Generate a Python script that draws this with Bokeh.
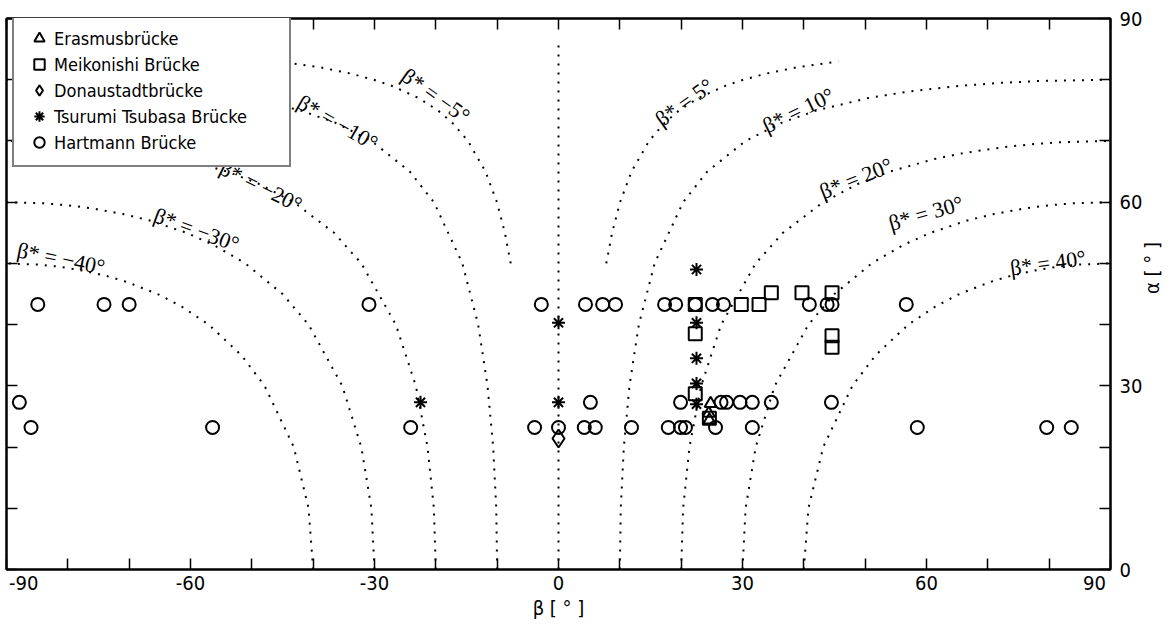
import math
from bokeh.plotting import figure
from bokeh.models import LinearAxis, FixedTicker, Range1d, Legend, LegendItem
from bokeh.embed import file_html
from bokeh.resources import INLINE
from bokeh.core.properties import value

# ---------------- data ----------------
# Hartmann Brücke (circles)
hart_beta = [-84.9, -74.1, -70.0, -30.9, -2.8, 4.4, 7.2, 9.3, 17.3, 19.1, 22.3, 25.1, 26.9, 40.9, 43.8, 44.6, 56.7,
             -87.9, 5.2, 19.9, 26.5, 27.4, 29.6, 31.6, 34.7, 44.5,
             -86.0, -56.4, -24.1, -3.9, 0.0, 4.2, 6.0, 11.9, 17.9, 19.9, 20.7, 25.6, 31.6, 58.5, 79.6, 83.6]
hart_alpha = [43.3] * 17 + [27.3] * 9 + [23.2] * 16

# Meikonishi Brücke (squares)
meik_beta = [22.3, 29.8, 32.7, 34.7, 39.7, 44.6, 22.3, 44.6, 44.6, 22.3, 24.6]
meik_alpha = [43.3, 43.3, 43.3, 45.2, 45.2, 45.2, 38.5, 38.2, 36.3, 28.7, 24.7]

# Erasmusbrücke (triangles)
eras_beta = [24.8, 24.5, 24.6]
eras_alpha = [27.1, 25.5, 24.4]

# Donaustadtbrücke (diamond)
dona_beta = [0.0]
dona_alpha = [21.4]

# Tsurumi Tsubasa Brücke (asterisks)
tsur_beta = [0.0, -22.5, 0.0, 22.5, 22.5, 22.5, 22.5, 22.5]
tsur_alpha = [40.3, 27.3, 27.3, 49.0, 40.3, 34.5, 30.4, 27.0]

# dotted beta* curves (beta, alpha points)
c0_beta = [0.0, 0.0]
c0_alpha = [0, 86.5]
c5_beta = [7.79, 8.74, 10.04, 11.9, 14.77, 17.34, 19.68, 22.79, 27.18, 30.14, 33.87, 38.77, 45.64]
c5_alpha = [50, 55, 60, 65, 70, 73, 75, 77, 79, 80, 81, 82, 83]
cm5_beta = [-7.79, -8.74, -10.04, -11.9, -14.77, -17.34, -19.68, -22.79, -27.18, -30.14, -33.87, -38.77, -45.64]
cm5_alpha = [50, 55, 60, 65, 70, 73, 75, 77, 79, 80, 81, 82, 83]
c10_beta = [10, 10.15, 10.65, 11.57, 13.1, 15.67, 20.32, 24.25, 30.51, 36.43, 42.14, 50.5, 56.62, 65.5, 72.3, 78.6, 90]
c10_alpha = [0, 10, 20, 30, 40, 50, 60, 65, 70, 73, 75, 77, 78, 79, 79.5, 79.8, 80]
cm10_beta = [-10, -10.15, -10.65, -11.57, -13.1, -15.67, -20.32, -24.25, -30.51, -36.43, -42.14, -50.5, -56.62, -65.5, -72.3, -78.6, -90]
cm10_alpha = [0, 10, 20, 30, 40, 50, 60, 65, 70, 73, 75, 77, 78, 79, 79.5, 79.8, 80]
c20_beta = [20, 20.32, 21.35, 23.26, 26.52, 32.15, 36.6, 43.16, 48.88, 54.03, 61.08, 65.92, 72.6, 77.6, 82.1, 90]
c20_alpha = [0, 10, 20, 30, 40, 50, 55, 60, 63, 65, 67, 68, 69, 69.5, 69.8, 70]
cm20_beta = [-20, -20.32, -21.35, -23.26, -26.52, -32.15, -36.6, -43.16, -48.88, -54.03, -61.08, -65.92, -72.6, -77.6, -82.1, -90]
cm20_alpha = [0, 10, 20, 30, 40, 50, 55, 60, 63, 65, 67, 68, 69, 69.5, 69.8, 70]
c30_beta = [30, 30.51, 32.15, 35.26, 40.75, 45, 51.07, 56.19, 60.66, 66.65, 70.68, 76.14, 80.1, 83.7, 90]
c30_alpha = [0, 10, 20, 30, 40, 45, 50, 53, 55, 57, 58, 59, 59.5, 59.8, 60]
cm30_beta = [-30, -30.51, -32.15, -35.26, -40.75, -45, -51.07, -56.19, -60.66, -66.65, -70.68, -76.14, -80.1, -83.7, -90]
cm30_alpha = [0, 10, 20, 30, 40, 45, 50, 53, 55, 57, 58, 59, 59.5, 59.8, 60]
c40_beta = [40, 40.75, 43.16, 47.92, 51.7, 57.03, 61.51, 65.38, 70.47, 73.87, 78.43, 81.8, 84.7, 90]
c40_alpha = [0, 10, 20, 30, 35, 40, 43, 45, 47, 48, 49, 49.5, 49.8, 50]
cm40_beta = [-40, -40.75, -43.16, -47.92, -51.7, -57.03, -61.51, -65.38, -70.47, -73.87, -78.43, -81.8, -84.7, -90]
cm40_alpha = [0, 10, 20, 30, 35, 40, 43, 45, 47, 48, 49, 49.5, 49.8, 50]

curve_labels = ["β* = −40°", "β* = −30°", "β* = −20°", "β* = −10°", "β* = −5°",
                "β* = 5°", "β* = 10°", "β* = 20°", "β* = 30°", "β* = 40°"]

# tick marks every 10 degrees; labels every 30 (end labels sit inside the ends like the original)
x_label_pos = [-87.2, -60, -30, 0, 30, 60, 87.4]
x_label_txt = ["-90", "-60", "-30", "0", "30", "60", "90"]
y_major = [0, 30, 60, 90]
y_minor = [10, 20, 40, 50, 70, 80]
all_x = [-90, -80, -70, -60, -50, -40, -30, -20, -10, 0, 10, 20, 30, 40, 50, 60, 70, 80, 90]
all_y = [0, 10, 20, 30, 40, 50, 60, 70, 80, 90]

# ---------------- figure ----------------
SANS = "DejaVu Sans Condensed, Roboto, DejaVu Sans"
SERIF = "Liberation Serif"

p = figure(frame_width=1104, frame_height=551,
           x_range=Range1d(-90, 90), y_range=Range1d(0, 90),
           x_axis_location=None, y_axis_location=None,
           output_backend="svg", toolbar_location=None,
           min_border_left=6, min_border_right=30, min_border_top=18, min_border_bottom=40)
p.grid.visible = False
p.outline_line_color = "black"
p.outline_line_width = 2
p.background_fill_color = "white"
p.border_fill_color = "white"


def style_axis(ax):
    ax.axis_line_color = "black"
    ax.axis_line_width = 2
    ax.major_tick_in = 11
    ax.major_tick_out = 0
    ax.minor_tick_in = 11
    ax.minor_tick_out = 0
    ax.major_tick_line_width = 1.5
    ax.minor_tick_line_width = 1.5
    ax.major_tick_line_color = "black"
    ax.minor_tick_line_color = "black"
    ax.major_label_text_font = SANS
    ax.major_label_text_font_size = "20px"
    ax.major_label_text_color = "black"
    ax.axis_label_text_font = SANS
    ax.axis_label_text_font_size = "20px"
    ax.axis_label_text_font_style = "normal"
    ax.axis_label_text_color = "black"


xb = LinearAxis(ticker=FixedTicker(ticks=x_label_pos, minor_ticks=all_x), axis_label="β [ ° ]")
style_axis(xb)
xb.major_tick_in = 0
xb.major_label_overrides = dict(zip(x_label_pos, x_label_txt))
xb.major_label_standoff = 6
xb.axis_label_standoff = 3
p.add_layout(xb, "below")

xt = LinearAxis(ticker=FixedTicker(ticks=[], minor_ticks=all_x))
style_axis(xt)
p.add_layout(xt, "above")

yr = LinearAxis(ticker=FixedTicker(ticks=y_major, minor_ticks=y_minor), axis_label="α [ ° ]")
style_axis(yr)
yr.major_label_standoff = 9
yr.axis_label_standoff = 7
if "axis_label_orientation" in yr.properties():
    yr.axis_label_orientation = math.pi / 2
p.add_layout(yr, "right")

yl = LinearAxis(ticker=FixedTicker(ticks=[], minor_ticks=all_y))
style_axis(yl)
p.add_layout(yl, "left")

# dotted curves
dot = dict(line_color="black", line_width=2, line_dash="2 7")
for bx, ay in [(c0_beta, c0_alpha), (c5_beta, c5_alpha), (cm5_beta, cm5_alpha),
               (c10_beta, c10_alpha), (cm10_beta, cm10_alpha),
               (c20_beta, c20_alpha), (cm20_beta, cm20_alpha),
               (c30_beta, c30_alpha), (cm30_beta, cm30_alpha),
               (c40_beta, c40_alpha), (cm40_beta, cm40_alpha)]:
    p.line(bx, ay, **dot)

# curve labels (placed along their curves)
lab_x = [-81.1, -59.0, -48.5, -36.0, -20.0, 20.5, 39.1, 48.5, 59.9, 79.8]
lab_y = [50.8, 55.5, 62.6, 73.0, 77.4, 76.3, 75.0, 63.9, 58.2, 50.1]
lab_a = [-0.20, -0.35, -0.46, -0.52, -0.62, 0.62, 0.45, 0.38, 0.28, 0.14]
p.text(x=lab_x, y=lab_y, text=curve_labels, angle=lab_a,
       text_font=value(SERIF), text_font_size="22px", text_color="black",
       text_align="center", text_baseline="middle")

# markers
mk = dict(line_color="black", line_width=2, fill_alpha=0)
r_eras = p.scatter(eras_beta, eras_alpha, marker="triangle", size=12, **mk)
r_meik = p.scatter(meik_beta, meik_alpha, marker="square", size=13, **mk)
r_dona = p.scatter(dona_beta, dona_alpha, marker="diamond", size=18, **mk)
r_tsur = p.scatter(tsur_beta, tsur_alpha, marker="asterisk", size=13, **mk)
r_hart = p.scatter(hart_beta, hart_alpha, marker="circle", size=13, **mk)

legend = Legend(items=[
    LegendItem(label="Erasmusbrücke", renderers=[r_eras]),
    LegendItem(label="Meikonishi Brücke", renderers=[r_meik]),
    LegendItem(label="Donaustadtbrücke", renderers=[r_dona]),
    LegendItem(label="Tsurumi Tsubasa Brücke", renderers=[r_tsur]),
    LegendItem(label="Hartmann Brücke", renderers=[r_hart]),
], location=(6, 402))
legend.border_line_color = "black"
legend.border_line_width = 2
legend.background_fill_color = "white"
legend.background_fill_alpha = 1
legend.label_text_font = SANS
legend.label_text_font_size = "18px"
legend.label_text_color = "black"
legend.glyph_width = 30
legend.glyph_height = 26
legend.label_height = 26
legend.label_width = 225
legend.spacing = 0
legend.padding = 10
legend.margin = 0
legend.label_standoff = 0
p.add_layout(legend)

open("out.html", "w").write(file_html(p, INLINE))
